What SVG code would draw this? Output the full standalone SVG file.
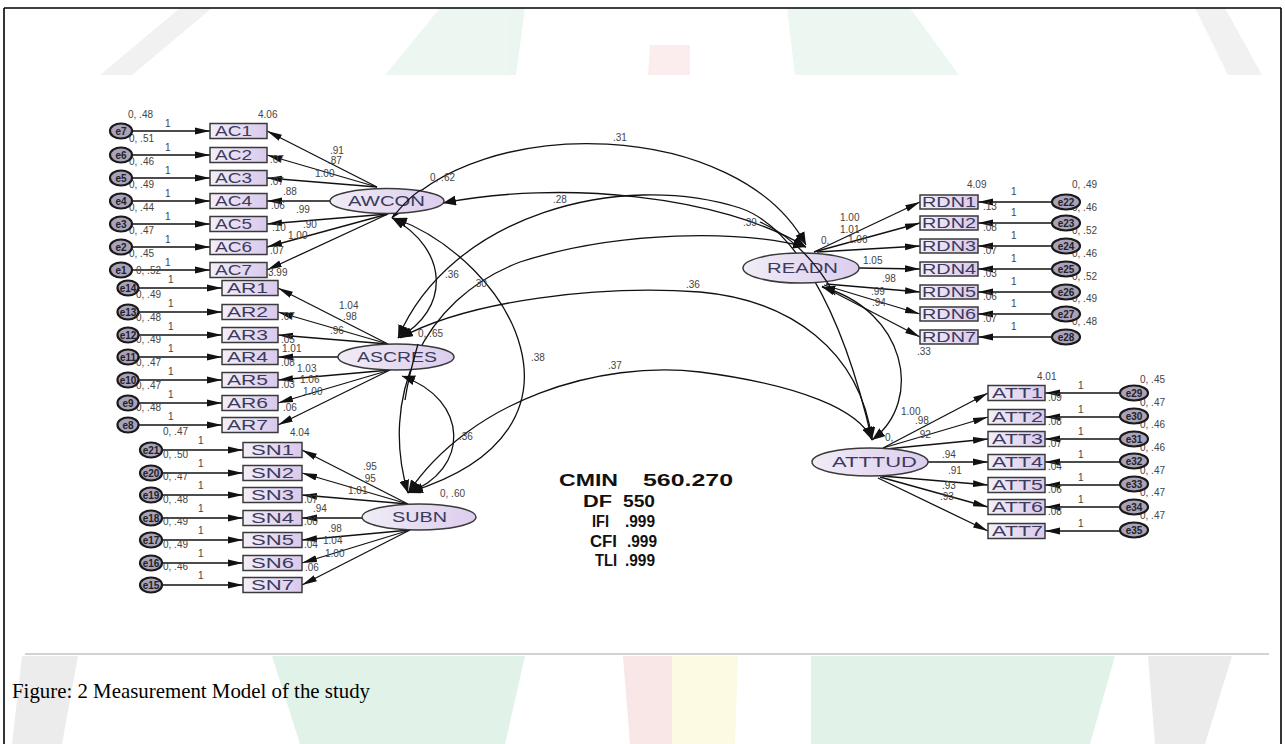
<svg xmlns="http://www.w3.org/2000/svg" width="1285" height="744" viewBox="0 0 1285 744">
<style>
.ln{stroke:#111;stroke-width:1.3;fill:none}
.ar{marker-end:url(#ah)}
.cv{stroke:#111;stroke-width:1.3;fill:none;marker-start:url(#ch);marker-end:url(#ch)}
.box{fill:url(#gb);stroke:#3a3a3a;stroke-width:1.5}
.lat{fill:url(#ge);stroke:#3a3a3a;stroke-width:1.5}
.err{fill:#aaa2bb;stroke:#1a1a1a;stroke-width:2.2}
.nt{font-family:'Liberation Sans',Arial,sans-serif;font-size:14px;fill:#3b3b5c}
.sm{font-family:'Liberation Sans',Arial,sans-serif;font-size:10px;fill:#444}
.et{font-family:'Liberation Sans',Arial,sans-serif;font-size:10px;font-weight:bold;fill:#222;text-anchor:middle}
.st{font-family:'Liberation Sans',Arial,sans-serif;font-size:16px;font-weight:bold;fill:#111}
</style>
<defs>
<linearGradient id="gb" x1="0" y1="0" x2="1" y2="0"><stop offset="0" stop-color="#f3eef8"/><stop offset="1" stop-color="#d9c9ec"/></linearGradient>
<linearGradient id="ge" x1="0" y1="0" x2="1" y2="0"><stop offset="0" stop-color="#f1ecf6"/><stop offset="1" stop-color="#dccdee"/></linearGradient>
<marker id="ah" markerUnits="userSpaceOnUse" markerWidth="16" markerHeight="8" refX="15" refY="4" orient="auto-start-reverse"><path d="M0,0.6 L15,4 L0,7.4 z" fill="#111"/></marker>
<marker id="ch" markerUnits="userSpaceOnUse" markerWidth="14" markerHeight="10" refX="13" refY="5" orient="auto-start-reverse"><path d="M0,0 L13,5 L0,10 z" fill="#111"/></marker>
</defs>

<rect x="0" y="0" width="1285" height="744" fill="#ffffff"/>
<g id="watermark-top" opacity="0.3">
<polygon points="180,8 212,8 132,75 100,75" fill="#cfcfcf"/>
<polygon points="440,8 525,8 516,75 385,75" fill="#bfe4cf"/>
<polygon points="650,45 690,45 690,75 648,75" fill="#f2c6c6"/>
<polygon points="787,8 910,8 959,75 795,75" fill="#bfe4cf"/>
<polygon points="1195,8 1225,8 1262,75 1228,75" fill="#cfcfcf"/>
</g>
<g id="watermark-bottom" opacity="0.55">
<polygon points="22,656 78,656 62,744 12,744" fill="#dcdcdc"/>
<polygon points="272,656 525,656 505,744 300,744" fill="#c9e8d6"/>
<polygon points="623,656 672,656 672,744 630,744" fill="#f5d2d2"/>
<polygon points="672,656 738,656 735,744 672,744" fill="#faf6cc"/>
<polygon points="811,656 1115,656 1090,744 811,744" fill="#c9e8d6"/>
<polygon points="1148,656 1232,656 1205,744 1155,744" fill="#dcdcdc"/>
</g>
<rect x="5" y="75" width="1275" height="578" fill="#ffffff"/>
<line x1="25" y1="654" x2="1269" y2="654" stroke="#d2d2d2" stroke-width="2"/>
<g id="border" stroke="#000" stroke-width="1.6">
<line x1="4" y1="8" x2="1281" y2="8"/>
<line x1="4" y1="8" x2="4" y2="744"/>
<line x1="1281" y1="8" x2="1281" y2="744"/>
</g>

<g id="connectors">
<path class="ln ar" d="M132,131 L210,131"/><path class="ln ar" d="M132,155 L210,155"/><path class="ln ar" d="M132,178 L210,178"/><path class="ln ar" d="M132,201 L210,201"/><path class="ln ar" d="M132,224 L210,224"/><path class="ln ar" d="M132,247 L210,247"/><path class="ln ar" d="M132,270 L210,270"/>
<path class="ln ar" d="M138,288 L222,288"/><path class="ln ar" d="M138,312 L222,312"/><path class="ln ar" d="M138,335 L222,335"/><path class="ln ar" d="M138,357 L222,357"/><path class="ln ar" d="M138,380 L222,380"/><path class="ln ar" d="M138,403 L222,403"/><path class="ln ar" d="M138,425 L222,425"/>
<path class="ln ar" d="M162,450 L243,450"/><path class="ln ar" d="M162,473 L243,473"/><path class="ln ar" d="M162,495 L243,495"/><path class="ln ar" d="M162,518 L243,518"/><path class="ln ar" d="M162,540 L243,540"/><path class="ln ar" d="M162,563 L243,563"/><path class="ln ar" d="M162,585 L243,585"/>
<path class="ln ar" d="M1052,202 L978,202"/><path class="ln ar" d="M1052,223 L978,223"/><path class="ln ar" d="M1052,246 L978,246"/><path class="ln ar" d="M1052,269 L978,269"/><path class="ln ar" d="M1052,292 L978,292"/><path class="ln ar" d="M1052,314 L978,314"/><path class="ln ar" d="M1052,337 L978,337"/>
<path class="ln ar" d="M1120,393 L1045,393"/><path class="ln ar" d="M1120,417 L1045,417"/><path class="ln ar" d="M1120,439 L1045,439"/><path class="ln ar" d="M1120,462 L1045,462"/><path class="ln ar" d="M1120,485 L1045,485"/><path class="ln ar" d="M1120,507 L1045,507"/><path class="ln ar" d="M1120,531 L1045,531"/>
<path class="ln ar" d="M377,187 L267,131"/><path class="ln ar" d="M377,187 L267,155"/><path class="ln ar" d="M377,187 L267,178"/><path class="ln ar" d="M330,201 L267,201"/><path class="ln ar" d="M388,214 L267,224"/><path class="ln ar" d="M388,214 L267,247"/><path class="ln ar" d="M388,214 L267,270"/>
<path class="ln ar" d="M388,344 L278,288"/><path class="ln ar" d="M388,344 L278,312"/><path class="ln ar" d="M388,344 L278,335"/><path class="ln ar" d="M338,357 L278,357"/><path class="ln ar" d="M390,370 L278,380"/><path class="ln ar" d="M390,370 L278,403"/><path class="ln ar" d="M390,370 L278,425"/>
<path class="ln ar" d="M408,504 L302,450"/><path class="ln ar" d="M408,504 L302,473"/><path class="ln ar" d="M408,504 L302,495"/><path class="ln ar" d="M362,518 L302,518"/><path class="ln ar" d="M410,530 L302,540"/><path class="ln ar" d="M410,530 L302,563"/><path class="ln ar" d="M410,530 L302,585"/>
<path class="ln ar" d="M814,252 L920,202"/><path class="ln ar" d="M814,252 L920,223"/><path class="ln ar" d="M817,252 L920,246"/><path class="ln ar" d="M859,268 L920,269"/><path class="ln ar" d="M826,284 L920,292"/><path class="ln ar" d="M824,285 L920,314"/><path class="ln ar" d="M822,286 L920,337"/>
<path class="ln ar" d="M883,448 L988,393"/><path class="ln ar" d="M883,448 L988,417"/><path class="ln ar" d="M886,449 L988,439"/><path class="ln ar" d="M928,462 L988,462"/><path class="ln ar" d="M882,476 L988,485"/><path class="ln ar" d="M880,477 L988,507"/><path class="ln ar" d="M878,478 L988,531"/>
<path class="cv" d="M392,218 C480,110 740,120 806,245"/>
<path class="cv" d="M443,203 C560,180 720,195 806,247"/>
<path class="cv" d="M398,338 C450,215 620,170 740,208 C790,225 840,300 872,440"/>
<path class="cv" d="M408,493 C380,400 420,300 520,262 C620,230 740,230 806,247"/>
<path class="cv" d="M400,338 C470,300 600,285 700,292 C790,300 860,350 872,440"/>
<path class="cv" d="M408,493 C470,400 600,360 700,372 C800,385 860,410 872,440"/>
<path class="cv" d="M822,287 C905,310 925,400 872,440"/>
<path class="cv" d="M392,218 C450,250 450,310 398,338"/>
<path class="cv" d="M394,218 C510,260 610,430 410,492"/>
<path class="cv" d="M402,376 C470,400 470,470 408,493"/>
</g>

<g id="labels">
<text class="sm" x="128" y="118">0, .48</text><text class="sm" x="165" y="127">1</text>
<text class="sm" x="129" y="142">0, .51</text><text class="sm" x="165" y="151">1</text>
<text class="sm" x="129" y="165">0, .46</text><text class="sm" x="165" y="174">1</text>
<text class="sm" x="129" y="188">0, .49</text><text class="sm" x="165" y="197">1</text>
<text class="sm" x="129" y="211">0, .44</text><text class="sm" x="165" y="220">1</text>
<text class="sm" x="129" y="234">0, .47</text><text class="sm" x="165" y="243">1</text>
<text class="sm" x="129" y="257">0, .45</text><text class="sm" x="165" y="266">1</text>
<text class="sm" x="136" y="274">0, .52</text><text class="sm" x="168" y="283">1</text>
<text class="sm" x="136" y="298">0, .49</text><text class="sm" x="168" y="307">1</text>
<text class="sm" x="136" y="321">0, .48</text><text class="sm" x="168" y="330">1</text>
<text class="sm" x="136" y="343">0, .49</text><text class="sm" x="168" y="352">1</text>
<text class="sm" x="136" y="366">0, .47</text><text class="sm" x="168" y="375">1</text>
<text class="sm" x="136" y="389">0, .47</text><text class="sm" x="168" y="398">1</text>
<text class="sm" x="136" y="411">0, .48</text><text class="sm" x="168" y="420">1</text>
<text class="sm" x="163" y="435">0, .47</text><text class="sm" x="198" y="444">1</text>
<text class="sm" x="163" y="458">0, .50</text><text class="sm" x="198" y="467">1</text>
<text class="sm" x="163" y="480">0, .47</text><text class="sm" x="198" y="489">1</text>
<text class="sm" x="163" y="503">0, .48</text><text class="sm" x="198" y="512">1</text>
<text class="sm" x="163" y="525">0, .49</text><text class="sm" x="198" y="534">1</text>
<text class="sm" x="163" y="548">0, .49</text><text class="sm" x="198" y="557">1</text>
<text class="sm" x="163" y="570">0, .46</text><text class="sm" x="198" y="579">1</text>
<text class="sm" x="1072" y="188">0, .49</text><text class="sm" x="1011" y="195">1</text>
<text class="sm" x="1072" y="211">0, .46</text><text class="sm" x="1011" y="216">1</text>
<text class="sm" x="1072" y="234">0, .52</text><text class="sm" x="1011" y="239">1</text>
<text class="sm" x="1072" y="257">0, .46</text><text class="sm" x="1011" y="262">1</text>
<text class="sm" x="1072" y="280">0, .52</text><text class="sm" x="1011" y="285">1</text>
<text class="sm" x="1072" y="302">0, .49</text><text class="sm" x="1011" y="307">1</text>
<text class="sm" x="1072" y="325">0, .48</text><text class="sm" x="1011" y="330">1</text>
<text class="sm" x="1140" y="383">0, .45</text><text class="sm" x="1078" y="389">1</text>
<text class="sm" x="1140" y="406">0, .47</text><text class="sm" x="1078" y="413">1</text>
<text class="sm" x="1140" y="428">0, .46</text><text class="sm" x="1078" y="435">1</text>
<text class="sm" x="1140" y="451">0, .46</text><text class="sm" x="1078" y="458">1</text>
<text class="sm" x="1140" y="474">0, .47</text><text class="sm" x="1078" y="481">1</text>
<text class="sm" x="1140" y="496">0, .47</text><text class="sm" x="1078" y="503">1</text>
<text class="sm" x="1140" y="519">0, .47</text><text class="sm" x="1078" y="527">1</text>
<text class="sm" x="258" y="118">4.06</text>
<text class="sm" x="270" y="163">.07</text><text class="sm" x="270" y="185">.07</text><text class="sm" x="271" y="209">.06</text><text class="sm" x="272" y="231">.10</text><text class="sm" x="270" y="254">.07</text><text class="sm" x="268" y="276">3.99</text>
<text class="sm" x="281" y="320">.07</text><text class="sm" x="281" y="343">.05</text><text class="sm" x="281" y="366">.08</text><text class="sm" x="281" y="388">.03</text><text class="sm" x="283" y="411">.06</text><text class="sm" x="290" y="436">4.04</text>
<text class="sm" x="304" y="503">.07</text><text class="sm" x="304" y="525">.00</text><text class="sm" x="304" y="548">.04</text><text class="sm" x="305" y="571">.06</text>
<text class="sm" x="967" y="188">4.09</text>
<text class="sm" x="983" y="210">.13</text><text class="sm" x="983" y="231">.08</text><text class="sm" x="983" y="254">.07</text><text class="sm" x="983" y="277">.03</text><text class="sm" x="983" y="300">.06</text><text class="sm" x="983" y="322">.07</text>
<text class="sm" x="1037" y="380">4.01</text>
<text class="sm" x="1048" y="401">.09</text><text class="sm" x="1048" y="425">.08</text><text class="sm" x="1048" y="447">.07</text><text class="sm" x="1048" y="470">.04</text><text class="sm" x="1048" y="493">.06</text><text class="sm" x="1048" y="515">.08</text>
<text class="sm" x="330" y="154">.91</text><text class="sm" x="328" y="164">.87</text><text class="sm" x="315" y="177">1.00</text><text class="sm" x="283" y="195">.88</text><text class="sm" x="296" y="213">.99</text><text class="sm" x="303" y="228">.90</text><text class="sm" x="288" y="239">1.00</text>
<text class="sm" x="339" y="309">1.04</text><text class="sm" x="343" y="320">.98</text><text class="sm" x="330" y="334">.96</text><text class="sm" x="282" y="352">1.01</text><text class="sm" x="297" y="372">1.03</text><text class="sm" x="300" y="383">1.06</text><text class="sm" x="303" y="395">1.00</text>
<text class="sm" x="363" y="470">.95</text><text class="sm" x="362" y="482">.95</text><text class="sm" x="348" y="494">1.01</text><text class="sm" x="313" y="512">.94</text><text class="sm" x="328" y="532">.98</text><text class="sm" x="323" y="544">1.04</text><text class="sm" x="325" y="557">1.00</text>
<text class="sm" x="840" y="221">1.00</text><text class="sm" x="840" y="233">1.01</text><text class="sm" x="821" y="244">0,</text><text class="sm" x="848" y="243">1.06</text><text class="sm" x="863" y="264">1.05</text><text class="sm" x="882" y="282">.98</text><text class="sm" x="871" y="295">.99</text><text class="sm" x="872" y="306">.94</text>
<text class="sm" x="901" y="415">1.00</text><text class="sm" x="915" y="424">.98</text><text class="sm" x="885" y="441">0,</text><text class="sm" x="917" y="438">.92</text><text class="sm" x="942" y="458">.94</text><text class="sm" x="948" y="474">.91</text><text class="sm" x="942" y="489">.93</text><text class="sm" x="940" y="500">.93</text>
<text class="sm" x="430" y="181">0, .62</text>
<text class="sm" x="418" y="337">0, .65</text>
<text class="sm" x="440" y="497">0, .60</text>
<text class="sm" x="613" y="141">.31</text>
<text class="sm" x="553" y="203">.28</text>
<text class="sm" x="743" y="226">.39</text>
<text class="sm" x="445" y="278">.36</text>
<text class="sm" x="473" y="287">.30</text>
<text class="sm" x="686" y="288">.36</text>
<text class="sm" x="531" y="361">.38</text>
<text class="sm" x="608" y="369">.37</text>
<text class="sm" x="459" y="440">.36</text>
<text class="sm" x="917" y="355">.33</text>
</g>

<g id="e7"><ellipse class="err" cx="121" cy="131" rx="11" ry="7.5"/><text class="et" x="121" y="134.5">e7</text></g>
<g id="e6"><ellipse class="err" cx="121" cy="155" rx="11" ry="7.5"/><text class="et" x="121" y="158.5">e6</text></g>
<g id="e5"><ellipse class="err" cx="121" cy="178" rx="11" ry="7.5"/><text class="et" x="121" y="181.5">e5</text></g>
<g id="e4"><ellipse class="err" cx="121" cy="201" rx="11" ry="7.5"/><text class="et" x="121" y="204.5">e4</text></g>
<g id="e3"><ellipse class="err" cx="121" cy="224" rx="11" ry="7.5"/><text class="et" x="121" y="227.5">e3</text></g>
<g id="e2"><ellipse class="err" cx="121" cy="247" rx="11" ry="7.5"/><text class="et" x="121" y="250.5">e2</text></g>
<g id="e1"><ellipse class="err" cx="121" cy="270" rx="11" ry="7.5"/><text class="et" x="121" y="273.5">e1</text></g>
<g id="e14"><ellipse class="err" cx="128" cy="288" rx="10.5" ry="7.5"/><text class="et" x="128" y="291.5">e14</text></g>
<g id="e13"><ellipse class="err" cx="128" cy="312" rx="10.5" ry="7.5"/><text class="et" x="128" y="315.5">e13</text></g>
<g id="e12"><ellipse class="err" cx="128" cy="335" rx="10.5" ry="7.5"/><text class="et" x="128" y="338.5">e12</text></g>
<g id="e11"><ellipse class="err" cx="128" cy="357" rx="10.5" ry="7.5"/><text class="et" x="128" y="360.5">e11</text></g>
<g id="e10"><ellipse class="err" cx="128" cy="380" rx="10.5" ry="7.5"/><text class="et" x="128" y="383.5">e10</text></g>
<g id="e9"><ellipse class="err" cx="128" cy="403" rx="10.5" ry="7.5"/><text class="et" x="128" y="406.5">e9</text></g>
<g id="e8"><ellipse class="err" cx="128" cy="425" rx="10.5" ry="7.5"/><text class="et" x="128" y="428.5">e8</text></g>
<g id="e21"><ellipse class="err" cx="151" cy="450" rx="11" ry="7.5"/><text class="et" x="151" y="453.5">e21</text></g>
<g id="e20"><ellipse class="err" cx="151" cy="473" rx="11" ry="7.5"/><text class="et" x="151" y="476.5">e20</text></g>
<g id="e19"><ellipse class="err" cx="151" cy="495" rx="11" ry="7.5"/><text class="et" x="151" y="498.5">e19</text></g>
<g id="e18"><ellipse class="err" cx="151" cy="518" rx="11" ry="7.5"/><text class="et" x="151" y="521.5">e18</text></g>
<g id="e17"><ellipse class="err" cx="151" cy="540" rx="11" ry="7.5"/><text class="et" x="151" y="543.5">e17</text></g>
<g id="e16"><ellipse class="err" cx="151" cy="563" rx="11" ry="7.5"/><text class="et" x="151" y="566.5">e16</text></g>
<g id="e15"><ellipse class="err" cx="151" cy="585" rx="11" ry="7.5"/><text class="et" x="151" y="588.5">e15</text></g>
<g id="e22"><ellipse class="err" cx="1066" cy="202" rx="14" ry="7.5"/><text class="et" x="1066" y="205.5">e22</text></g>
<g id="e23"><ellipse class="err" cx="1066" cy="223" rx="14" ry="7.5"/><text class="et" x="1066" y="226.5">e23</text></g>
<g id="e24"><ellipse class="err" cx="1066" cy="246" rx="14" ry="7.5"/><text class="et" x="1066" y="249.5">e24</text></g>
<g id="e25"><ellipse class="err" cx="1066" cy="269" rx="14" ry="7.5"/><text class="et" x="1066" y="272.5">e25</text></g>
<g id="e26"><ellipse class="err" cx="1066" cy="292" rx="14" ry="7.5"/><text class="et" x="1066" y="295.5">e26</text></g>
<g id="e27"><ellipse class="err" cx="1066" cy="314" rx="14" ry="7.5"/><text class="et" x="1066" y="317.5">e27</text></g>
<g id="e28"><ellipse class="err" cx="1066" cy="337" rx="14" ry="7.5"/><text class="et" x="1066" y="340.5">e28</text></g>
<g id="e29"><ellipse class="err" cx="1134" cy="393" rx="14" ry="7.5"/><text class="et" x="1134" y="396.5">e29</text></g>
<g id="e30"><ellipse class="err" cx="1134" cy="416" rx="14" ry="7.5"/><text class="et" x="1134" y="419.5">e30</text></g>
<g id="e31"><ellipse class="err" cx="1134" cy="439" rx="14" ry="7.5"/><text class="et" x="1134" y="442.5">e31</text></g>
<g id="e32"><ellipse class="err" cx="1134" cy="461" rx="14" ry="7.5"/><text class="et" x="1134" y="464.5">e32</text></g>
<g id="e33"><ellipse class="err" cx="1134" cy="484" rx="14" ry="7.5"/><text class="et" x="1134" y="487.5">e33</text></g>
<g id="e34"><ellipse class="err" cx="1134" cy="507" rx="14" ry="7.5"/><text class="et" x="1134" y="510.5">e34</text></g>
<g id="e35"><ellipse class="err" cx="1134" cy="530" rx="14" ry="7.5"/><text class="et" x="1134" y="533.5">e35</text></g>

<g id="AC1"><rect class="box" x="210" y="123.5" width="57" height="15"/><text class="nt" x="215" y="136" textLength="37" lengthAdjust="spacingAndGlyphs">AC1</text></g>
<g id="AC2"><rect class="box" x="210" y="147.5" width="57" height="15"/><text class="nt" x="215" y="160" textLength="37" lengthAdjust="spacingAndGlyphs">AC2</text></g>
<g id="AC3"><rect class="box" x="210" y="170.5" width="57" height="15"/><text class="nt" x="215" y="183" textLength="37" lengthAdjust="spacingAndGlyphs">AC3</text></g>
<g id="AC4"><rect class="box" x="210" y="193.5" width="57" height="15"/><text class="nt" x="215" y="206" textLength="37" lengthAdjust="spacingAndGlyphs">AC4</text></g>
<g id="AC5"><rect class="box" x="210" y="216.5" width="57" height="15"/><text class="nt" x="215" y="229" textLength="37" lengthAdjust="spacingAndGlyphs">AC5</text></g>
<g id="AC6"><rect class="box" x="210" y="239.5" width="57" height="15"/><text class="nt" x="215" y="252" textLength="37" lengthAdjust="spacingAndGlyphs">AC6</text></g>
<g id="AC7"><rect class="box" x="210" y="262.5" width="57" height="15"/><text class="nt" x="215" y="275" textLength="37" lengthAdjust="spacingAndGlyphs">AC7</text></g>
<g id="AR1"><rect class="box" x="222" y="280.5" width="56" height="15"/><text class="nt" x="227" y="293" textLength="41" lengthAdjust="spacingAndGlyphs">AR1</text></g>
<g id="AR2"><rect class="box" x="222" y="304.5" width="56" height="15"/><text class="nt" x="227" y="317" textLength="41" lengthAdjust="spacingAndGlyphs">AR2</text></g>
<g id="AR3"><rect class="box" x="222" y="327.5" width="56" height="15"/><text class="nt" x="227" y="340" textLength="41" lengthAdjust="spacingAndGlyphs">AR3</text></g>
<g id="AR4"><rect class="box" x="222" y="349.5" width="56" height="15"/><text class="nt" x="227" y="362" textLength="41" lengthAdjust="spacingAndGlyphs">AR4</text></g>
<g id="AR5"><rect class="box" x="222" y="372.5" width="56" height="15"/><text class="nt" x="227" y="385" textLength="41" lengthAdjust="spacingAndGlyphs">AR5</text></g>
<g id="AR6"><rect class="box" x="222" y="395.5" width="56" height="15"/><text class="nt" x="227" y="408" textLength="41" lengthAdjust="spacingAndGlyphs">AR6</text></g>
<g id="AR7"><rect class="box" x="222" y="417.5" width="56" height="15"/><text class="nt" x="227" y="430" textLength="41" lengthAdjust="spacingAndGlyphs">AR7</text></g>
<g id="SN1"><rect class="box" x="243" y="442.5" width="59" height="15"/><text class="nt" x="251" y="455" textLength="43" lengthAdjust="spacingAndGlyphs">SN1</text></g>
<g id="SN2"><rect class="box" x="243" y="465.5" width="59" height="15"/><text class="nt" x="251" y="478" textLength="43" lengthAdjust="spacingAndGlyphs">SN2</text></g>
<g id="SN3"><rect class="box" x="243" y="487.5" width="59" height="15"/><text class="nt" x="251" y="500" textLength="43" lengthAdjust="spacingAndGlyphs">SN3</text></g>
<g id="SN4"><rect class="box" x="243" y="510.5" width="59" height="15"/><text class="nt" x="251" y="523" textLength="43" lengthAdjust="spacingAndGlyphs">SN4</text></g>
<g id="SN5"><rect class="box" x="243" y="532.5" width="59" height="15"/><text class="nt" x="251" y="545" textLength="43" lengthAdjust="spacingAndGlyphs">SN5</text></g>
<g id="SN6"><rect class="box" x="243" y="555.5" width="59" height="15"/><text class="nt" x="251" y="568" textLength="43" lengthAdjust="spacingAndGlyphs">SN6</text></g>
<g id="SN7"><rect class="box" x="243" y="577.5" width="59" height="15"/><text class="nt" x="251" y="590" textLength="43" lengthAdjust="spacingAndGlyphs">SN7</text></g>
<g id="RDN1"><rect class="box" x="920" y="195" width="58" height="14"/><text class="nt" x="922" y="207" textLength="54" lengthAdjust="spacingAndGlyphs">RDN1</text></g>
<g id="RDN2"><rect class="box" x="920" y="216" width="58" height="14"/><text class="nt" x="922" y="228" textLength="54" lengthAdjust="spacingAndGlyphs">RDN2</text></g>
<g id="RDN3"><rect class="box" x="920" y="239" width="58" height="14"/><text class="nt" x="922" y="251" textLength="54" lengthAdjust="spacingAndGlyphs">RDN3</text></g>
<g id="RDN4"><rect class="box" x="920" y="262" width="58" height="14"/><text class="nt" x="922" y="274" textLength="54" lengthAdjust="spacingAndGlyphs">RDN4</text></g>
<g id="RDN5"><rect class="box" x="920" y="285" width="58" height="14"/><text class="nt" x="922" y="297" textLength="54" lengthAdjust="spacingAndGlyphs">RDN5</text></g>
<g id="RDN6"><rect class="box" x="920" y="307" width="58" height="14"/><text class="nt" x="922" y="319" textLength="54" lengthAdjust="spacingAndGlyphs">RDN6</text></g>
<g id="RDN7"><rect class="box" x="920" y="330" width="58" height="14"/><text class="nt" x="922" y="342" textLength="54" lengthAdjust="spacingAndGlyphs">RDN7</text></g>
<g id="ATT1"><rect class="box" x="988" y="385.5" width="57" height="15"/><text class="nt" x="992" y="398" textLength="51" lengthAdjust="spacingAndGlyphs">ATT1</text></g>
<g id="ATT2"><rect class="box" x="988" y="409.5" width="57" height="15"/><text class="nt" x="992" y="422" textLength="51" lengthAdjust="spacingAndGlyphs">ATT2</text></g>
<g id="ATT3"><rect class="box" x="988" y="431.5" width="57" height="15"/><text class="nt" x="992" y="444" textLength="51" lengthAdjust="spacingAndGlyphs">ATT3</text></g>
<g id="ATT4"><rect class="box" x="988" y="454.5" width="57" height="15"/><text class="nt" x="992" y="467" textLength="51" lengthAdjust="spacingAndGlyphs">ATT4</text></g>
<g id="ATT5"><rect class="box" x="988" y="477.5" width="57" height="15"/><text class="nt" x="992" y="490" textLength="51" lengthAdjust="spacingAndGlyphs">ATT5</text></g>
<g id="ATT6"><rect class="box" x="988" y="499.5" width="57" height="15"/><text class="nt" x="992" y="512" textLength="51" lengthAdjust="spacingAndGlyphs">ATT6</text></g>
<g id="ATT7"><rect class="box" x="988" y="523.5" width="57" height="15"/><text class="nt" x="992" y="536" textLength="51" lengthAdjust="spacingAndGlyphs">ATT7</text></g>

<g id="AWCON"><ellipse class="lat" cx="387" cy="201" rx="57" ry="12.5"/><text class="nt" x="348" y="206" textLength="77" lengthAdjust="spacingAndGlyphs">AWCON</text></g>
<g id="ASCRES"><ellipse class="lat" cx="396" cy="357" rx="58" ry="13"/><text class="nt" x="357" y="362" textLength="80" lengthAdjust="spacingAndGlyphs">ASCRES</text></g>
<g id="SUBN"><ellipse class="lat" cx="419" cy="517" rx="57" ry="13"/><text class="nt" x="392" y="522" textLength="55" lengthAdjust="spacingAndGlyphs">SUBN</text></g>
<g id="READN"><ellipse class="lat" cx="801" cy="268" rx="58" ry="15"/><text class="nt" x="767" y="273" textLength="71" lengthAdjust="spacingAndGlyphs">READN</text></g>
<g id="ATTTUD"><ellipse class="lat" cx="870" cy="462" rx="58" ry="14"/><text class="nt" x="832" y="467" textLength="85" lengthAdjust="spacingAndGlyphs">ATTTUD</text></g>

<g id="overlay-connectors">
<path class="ln" d="M392,218 C405,202 412,195 421,190"/>
<path class="ln" d="M760,222 C790,235 815,260 835,295"/>
<path class="ln" d="M405,400 C408,380 411,368 418,344"/>
</g>

<g id="fit-stats">
<text class="st" x="559" y="486" textLength="59" lengthAdjust="spacingAndGlyphs">CMIN</text><text class="st" x="643" y="486" textLength="90" lengthAdjust="spacingAndGlyphs">560.270</text>
<text class="st" x="583" y="507" textLength="29" lengthAdjust="spacingAndGlyphs">DF</text><text class="st" x="623" y="507" textLength="32" lengthAdjust="spacingAndGlyphs">550</text>
<text class="st" x="592" y="527" textLength="17" lengthAdjust="spacingAndGlyphs">IFI</text><text class="st" x="625" y="527" textLength="30" lengthAdjust="spacingAndGlyphs">.999</text>
<text class="st" x="590" y="547" textLength="27" lengthAdjust="spacingAndGlyphs">CFI</text><text class="st" x="627" y="547" textLength="30" lengthAdjust="spacingAndGlyphs">.999</text>
<text class="st" x="595" y="566" textLength="22" lengthAdjust="spacingAndGlyphs">TLI</text><text class="st" x="625" y="566" textLength="30" lengthAdjust="spacingAndGlyphs">.999</text>
</g>

<text x="12" y="698" font-family="'Liberation Serif','Times New Roman',serif" font-size="21" fill="#000" textLength="358" lengthAdjust="spacingAndGlyphs">Figure: 2 Measurement Model of the study</text>
</svg>
